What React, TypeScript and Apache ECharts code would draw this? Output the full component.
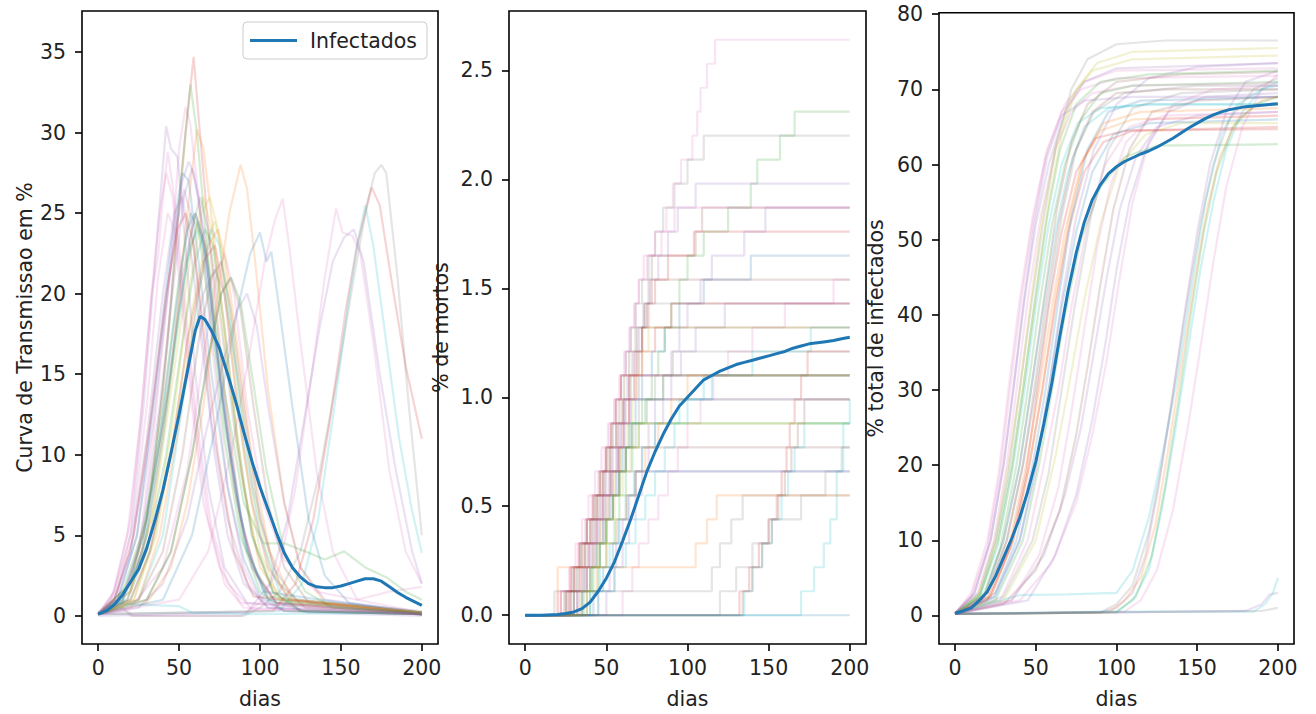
import React, { useEffect, useRef } from "react";
import * as echarts from "echarts";

const TAB = ["#1f77b4", "#ff7f0e", "#2ca02c", "#d62728", "#9467bd", "#8c564b", "#e377c2", "#7f7f7f", "#bcbd22", "#17becf"];

const xTicks = [0, 50, 100, 150, 200];
const yTicksTrans = [0, 5, 10, 15, 20, 25, 30, 35];
const yTicksDeaths = [0, 0.5, 1.0, 1.5, 2.0, 2.5];
const yTicksTotal = [0, 10, 20, 30, 40, 50, 60, 70, 80];

// mean curves [day, value]
const meanTrans = [[0,0.1],[5,0.3],[10,0.7],[15,1.3],[20,2.1],[25,2.9],[30,4.2],[35,5.9],[40,7.8],[45,10.1],[50,12.5],[55,15.1],[60,17.7],[63,18.6],[66,18.4],[70,17.7],[75,16.6],[80,15.0],[85,13.3],[90,11.4],[95,9.6],[100,8.0],[105,6.6],[110,5.2],[115,3.9],[120,3.0],[125,2.4],[130,2.0],[135,1.8],[140,1.75],[145,1.75],[150,1.85],[155,2.0],[160,2.15],[165,2.3],[170,2.3],[175,2.15],[180,1.8],[185,1.45],[190,1.15],[195,0.9],[200,0.65]];
const meanDeaths = [[0,0],[10,0],[20,0.003],[25,0.008],[30,0.015],[35,0.03],[40,0.06],[45,0.11],[50,0.17],[55,0.245],[60,0.34],[65,0.44],[70,0.55],[75,0.66],[80,0.75],[85,0.83],[90,0.9],[95,0.96],[100,1.0],[105,1.04],[110,1.08],[115,1.10],[120,1.12],[125,1.135],[130,1.15],[135,1.16],[140,1.17],[145,1.18],[150,1.19],[155,1.2],[160,1.21],[165,1.225],[170,1.235],[175,1.245],[180,1.25],[185,1.255],[190,1.26],[195,1.268],[200,1.275]];
const meanTotal = [[0,0.3],[5,0.6],[10,1.0],[15,2.0],[20,3.2],[25,5.2],[30,7.7],[35,10.2],[40,13.0],[45,16.5],[50,20.5],[55,25.5],[60,31.0],[65,37.3],[70,43.2],[75,48.2],[80,52.3],[85,55.3],[90,57.3],[95,58.8],[100,59.7],[105,60.4],[110,60.9],[115,61.4],[120,61.8],[125,62.3],[130,62.9],[135,63.5],[140,64.2],[145,64.9],[150,65.5],[155,66.1],[160,66.6],[165,67.0],[170,67.3],[175,67.5],[180,67.7],[185,67.8],[190,67.9],[195,68.0],[200,68.1]];

// individual runs: transmission curve
const transRuns = [
  [[0,0.1],[15,1],[25,4],[35,12],[45,22],[50,29],[54,31.6],[57,30.5],[62,26],[70,17],[80,8],[90,3],[100,1],[115,0.3],[200,0.1]],
  [[0,0.1],[20,2],[30,6],[40,14],[48,23],[54,30],[59,34.7],[62,31],[68,24],[78,14],[88,6],[98,2.5],[110,0.8],[200,0.1]],
  [[0,0.1],[20,2],[33,8],[43,17],[51,27],[57,33],[61,30],[68,22],[78,12],[90,4.5],[105,1.2],[200,0.2]],
  [[0,0.1],[10,1.5],[20,5],[28,13],[36,23],[42,30.4],[45,29],[49,28.5],[54,23],[60,15],[68,8],[78,3],[92,0.8],[200,0.1]],
  [[0,0.2],[20,1.5],[33,6],[44,14],[54,24],[61,30.2],[65,29],[71,24],[80,16],[90,8],[100,3],[115,0.8],[200,0.2]],
  [[0,0.1],[12,1],[24,5],[34,12],[44,21],[52,27],[56,28.2],[59,27.5],[65,24],[73,17],[82,10],[92,4],[105,1],[130,0.2],[200,0]],
  [[0,0.1],[30,0.8],[45,3],[55,7],[65,13],[74,20],[81,25],[88,28],[92,26.5],[97,22],[105,14],[115,7],[125,3],[140,0.8],[200,0.2]],
  [[0,0.1],[50,1],[68,4],[82,10],[93,16],[103,22],[109,24.5],[114,25.9],[118,23],[125,17],[135,9],[145,4],[160,1],[200,0.2]],
  [[0,0.1],[40,1],[58,5],[73,12],[86,19],[94,22.5],[100,23.8],[104,22],[107,22.6],[112,19],[120,13],[130,6],[140,2.5],[155,0.8],[200,0.2]],
  [[0,0.1],[18,0.3],[22,0],[88,0],[100,0.8],[112,3],[122,8],[132,15],[140,21],[147,25.3],[151,23.8],[157,23.6],[162,22.5],[170,17],[180,9],[190,4],[200,2]],
  [[0,0.2],[15,0.5],[20,0],[90,0],[100,0.5],[112,1.5],[125,4],[137,9],[148,15],[158,21],[166,25.5],[171,27.5],[175,28],[178,27.5],[185,21],[192,13],[200,5]],
  [[0,0.1],[108,0.3],[122,2],[133,6],[143,12],[153,19],[160,23],[165,25],[169,26.6],[174,25.5],[181,21],[190,15.5],[200,11]],
  [[0,0.1],[112,0.3],[126,2],[136,6],[146,13],[154,19],[160,23],[165,25.5],[170,23],[178,17],[186,11],[194,6.5],[200,3.9]],
  [[0,0],[92,0.2],[106,2],[117,6],[127,12],[137,18],[145,22],[152,23.5],[158,24],[164,22],[174,15],[184,9],[194,4],[200,2]],
  [[0,0.2],[15,1.5],[30,6],[45,15],[55,22],[62,24.5],[68,22],[78,14],[90,7],[102,4.5],[115,4.5],[128,4],[140,3.5],[152,4],[165,3],[178,2.4],[190,1.5],[200,1]],
  [[0,0.1],[15,1],[28,5],[40,13],[50,21],[57,25],[62,24],[70,18],[78,11],[88,5],[100,1.5],[115,0.3],[200,0.1]],
  [[0,0.1],[20,1.5],[35,7],[48,16],[58,23],[65,26],[70,24],[78,17],[88,9],[98,4],[110,1],[200,0.2]],
  [[0,0.1],[18,1],[30,5],[42,13],[52,21],[60,25],[66,23],[74,16],[84,8],[95,3],[110,0.8],[200,0.1]],
  [[0,0.1],[10,1],[20,4],[30,11],[40,20],[47,25],[52,26],[58,22],[65,16],[72,10],[80,5],[90,2],[105,0.5],[200,0.1]],
  [[0,0.1],[20,1],[32,4],[45,10],[55,17],[65,22],[72,23],[78,20],[86,13],[95,7],[105,3],[118,1],[200,0.2]],
  [[0,0.1],[25,1],[40,5],[52,13],[62,20],[70,24],[75,23],[82,18],[90,11],[100,5],[112,1.5],[125,0.3],[200,0.1]],
  [[0,0.1],[12,1],[24,5],[35,14],[45,23],[52,27.5],[56,27],[62,22],[70,15],[80,8],[90,3.5],[100,1.2],[115,0.3],[200,0.1]],
  [[0,0.1],[10,1.5],[20,6],[27,13],[33,20],[37,22.3],[40,26],[43,28.8],[47,26],[54,19],[61,12],[70,5.5],[80,2],[95,0.4],[200,0.1]],
  [[0,0.1],[25,0.5],[40,2],[55,6],[68,12],[78,16],[86,19],[92,20],[98,18],[105,13],[115,7],[125,3],[140,1],[200,0.2]],
  [[0,0.2],[10,0.8],[25,0.7],[50,0.6],[58,0.2],[90,0.1],[200,0.2]],
  [[0,0.1],[15,1.2],[28,5],[40,12],[50,19],[58,24],[63,26],[68,24],[76,18],[85,11],[95,5],[108,1.5],[125,0.3],[200,0.1]],
  [[0,0.1],[22,1],[36,5],[48,12],[58,19],[66,23],[72,24.5],[78,22],[86,15],[95,8],[106,3],[120,0.8],[200,0.1]],
  [[0,0.1],[30,1],[45,4],[58,10],[68,16],[76,20],[82,21],[88,19],[96,13],[105,7],[115,3],[130,0.8],[200,0.1]],
  [[0,0.1],[20,0.5],[40,3],[55,9],[65,16],[73,21],[78,22.5],[84,20],[92,13],[102,7],[115,3.5],[135,1.5],[160,1],[180,1.5],[200,1.8]],
  [[0,0.1],[8,1],[18,5],[26,12],[33,20],[38,25],[42,27.5],[46,26],[52,20],[60,12],[68,6],[78,2],[90,0.5],[200,0.1]],
  [[0,0.1],[10,1],[20,4],[30,10],[40,18],[48,24],[53,26.5],[57,25],[63,19],[70,12],[80,6],[92,2],[105,0.5],[200,0.1]],
  [[0,0.1],[18,1],[30,4],[42,10],[52,17],[60,22],[66,24],[71,23],[78,18],[86,11],[95,5],[108,1.5],[125,0.3],[200,0.1]],
  [[0,0.1],[15,1],[28,4],[40,11],[50,19],[57,23],[62,24],[67,22],[74,16],[82,10],[92,4],[105,1],[200,0.1]],
  [[0,0.1],[22,1],[35,5],[46,12],[56,20],[64,25],[69,26],[74,24],[82,17],[90,10],[100,4],[112,1],[200,0.2]],
  [[0,0.1],[25,1],[40,4],[52,10],[62,17],[70,21],[76,22],[82,19],[90,13],[100,6],[112,2],[128,0.5],[200,0.1]],
  [[0,0.1],[12,1.5],[22,6],[30,13],[37,21],[43,25],[47,24],[52,19],[58,13],[65,7],[75,3],[88,0.8],[200,0.1]],
  [[0,0.1],[20,1],[32,4],[45,10],[56,16],[65,20],[72,21.5],[78,20],[86,15],[96,8],[108,3],[122,1],[200,0.3]],
  [[0,0.1],[15,0.8],[27,4],[38,11],[48,19],[55,24],[60,25],[65,23],[72,17],[80,11],[90,5],[102,1.5],[200,0.1]],
  [[0,0.1],[25,1],[38,5],[50,12],[60,19],[68,23],[74,24],[79,22],[87,16],[96,9],[106,4],[120,1],[200,0.2]],
  [[0,0.1],[10,1],[22,5],[32,12],[42,20],[49,24],[54,25],[59,23],[66,17],[74,10],[84,4],[96,1.2],[200,0.1]],
  [[0,0.1],[15,1],[27,5],[38,13],[47,21],[53,26],[58,27.8],[62,26],[68,21],[76,14],[86,7],[96,3],[110,0.8],[200,0.1]],
  [[0,0.1],[30,1],[45,4],[58,10],[68,16],[76,20],[82,21],[88,19.5],[95,15],[104,9],[115,4],[128,1.5],[145,0.5],[200,0.2]]
];
const transColors = [6,3,2,4,1,4,1,6,0,6,7,3,9,4,2,2,8,5,4,3,9,0,6,4,9,7,8,5,6,6,4,2,9,8,5,6,7,0,1,3,4,2];

// individual runs: % deaths (step curves)
const deathRuns = [
  [[0,0],[22,0.11],[28,0.22],[33,0.33],[37,0.44],[41,0.55],[45,0.66],[49,0.77],[52,0.88],[55,0.99],[59,1.10],[62,1.21],[65,1.32],[68,1.43],[70,1.54],[73,1.65],[84,1.76],[87,1.87],[91,1.98],[96,2.09],[103,2.20],[106,2.31],[108,2.42],[112,2.53],[117,2.64],[200,2.64]],
  [[0,0],[40,0.11],[45,0.22],[50,0.33],[55,0.44],[58,0.55],[62,0.66],[66,0.77],[70,0.88],[74,0.99],[78,1.10],[82,1.21],[86,1.32],[90,1.43],[95,1.54],[100,1.65],[110,1.76],[125,1.87],[139,1.98],[143,2.09],[157,2.20],[166,2.31],[200,2.31]],
  [[0,0],[28,0.11],[32,0.22],[36,0.33],[40,0.44],[44,0.55],[47,0.66],[50,0.77],[53,0.88],[56,0.99],[59,1.10],[62,1.21],[65,1.32],[68,1.43],[72,1.54],[76,1.65],[80,1.76],[85,1.87],[92,1.98],[100,2.09],[110,2.20],[200,2.20]],
  [[0,0],[30,0.11],[35,0.22],[39,0.33],[43,0.44],[46,0.55],[50,0.66],[54,0.77],[58,0.88],[61,0.99],[64,1.10],[67,1.21],[70,1.32],[73,1.43],[77,1.54],[82,1.65],[88,1.76],[94,1.87],[105,1.98],[200,1.98]],
  [[0,0],[32,0.11],[38,0.22],[42,0.33],[46,0.44],[50,0.55],[54,0.66],[58,0.77],[61,0.88],[64,0.99],[67,1.10],[70,1.21],[72,1.32],[74,1.43],[76,1.54],[78,1.65],[105,1.76],[109,1.87],[200,1.87]],
  [[0,0],[26,0.11],[30,0.22],[35,0.33],[40,0.44],[44,0.55],[48,0.66],[52,0.77],[56,0.88],[60,0.99],[64,1.10],[68,1.21],[72,1.32],[76,1.43],[80,1.54],[88,1.65],[104,1.76],[200,1.76]],
  [[0,0],[45,0.11],[52,0.22],[56,0.33],[60,0.44],[64,0.55],[68,0.66],[72,0.77],[76,0.88],[80,0.99],[85,1.10],[90,1.21],[95,1.32],[100,1.43],[108,1.54],[115,1.65],[135,1.76],[148,1.87],[200,1.87]],
  [[0,0],[35,0.11],[40,0.22],[44,0.33],[48,0.44],[52,0.55],[56,0.66],[60,0.77],[64,0.88],[68,0.99],[72,1.10],[78,1.21],[86,1.32],[95,1.43],[110,1.54],[139,1.65],[200,1.65]],
  [[0,0],[27,0.11],[33,0.22],[37,0.33],[41,0.44],[45,0.55],[49,0.66],[53,0.77],[57,0.88],[61,0.99],[65,1.10],[69,1.21],[72,1.32],[75,1.43],[78,1.54],[200,1.54]],
  [[0,0],[60,0.11],[66,0.22],[70,0.33],[76,0.44],[82,0.55],[88,0.66],[94,0.77],[100,0.88],[108,0.99],[116,1.10],[125,1.21],[140,1.32],[160,1.43],[190,1.54],[200,1.54]],
  [[0,0],[24,0.11],[29,0.22],[34,0.33],[38,0.44],[43,0.55],[48,0.66],[52,0.77],[56,0.88],[60,0.99],[63,1.10],[66,1.21],[69,1.32],[73,1.43],[200,1.43]],
  [[0,0],[50,0.11],[55,0.22],[60,0.33],[64,0.44],[68,0.55],[72,0.66],[76,0.77],[80,0.88],[85,0.99],[90,1.10],[96,1.21],[105,1.32],[123,1.43],[200,1.43]],
  [[0,0],[30,0.11],[36,0.22],[42,0.33],[47,0.44],[51,0.55],[55,0.66],[59,0.77],[63,0.88],[66,0.99],[69,1.10],[72,1.21],[76,1.32],[200,1.32]],
  [[0,0],[45,0.11],[55,0.22],[62,0.33],[68,0.44],[74,0.55],[80,0.66],[86,0.77],[92,0.88],[100,0.99],[110,1.10],[140,1.21],[176,1.32],[200,1.32]],
  [[0,0],[35,0.11],[40,0.22],[46,0.33],[50,0.44],[54,0.55],[58,0.66],[62,0.77],[66,0.88],[70,0.99],[80,1.10],[91,1.21],[200,1.21]],
  [[0,0],[22,0.11],[28,0.22],[33,0.33],[38,0.44],[42,0.55],[46,0.66],[50,0.77],[53,0.88],[56,0.99],[59,1.10],[200,1.10]],
  [[0,0],[30,0.11],[36,0.22],[40,0.33],[44,0.44],[48,0.55],[52,0.66],[56,0.77],[59,0.88],[62,0.99],[200,0.99]],
  [[0,0],[38,0.11],[42,0.22],[46,0.33],[50,0.44],[54,0.55],[58,0.66],[62,0.77],[65,0.88],[200,0.88]],
  [[0,0],[25,0.11],[31,0.22],[37,0.33],[42,0.44],[47,0.55],[52,0.66],[58,0.77],[200,0.77]],
  [[0,0],[33,0.11],[38,0.22],[43,0.33],[48,0.44],[52,0.55],[57,0.66],[200,0.66]],
  [[0,0],[132,0.11],[138,0.22],[144,0.33],[150,0.44],[155,0.55],[158,0.66],[161,0.77],[163,0.88],[166,0.99],[170,1.10],[174,1.21],[200,1.21]],
  [[0,0],[135,0.11],[140,0.22],[146,0.33],[152,0.44],[158,0.55],[162,0.66],[166,0.77],[172,0.88],[200,0.88]],
  [[0,0],[18,0.11],[110,0.11],[115,0.22],[120,0.33],[127,0.44],[134,0.55],[200,0.55]],
  [[0,0],[120,0.11],[130,0.22],[140,0.33],[150,0.44],[170,0.55],[185,0.66],[195,0.77],[200,0.77]],
  [[0,0],[170,0.11],[178,0.22],[184,0.33],[188,0.44],[192,0.66],[196,0.88],[200,0.99]],
  [[0,0],[200,0]],
  [[0,0],[20,0.22],[95,0.22],[105,0.33],[112,0.44],[118,0.55],[200,0.55]],
  [[0,0],[25,0.11],[30,0.22],[34,0.33],[38,0.44],[42,0.55],[46,0.66],[50,0.77],[54,0.88],[58,0.99],[61,1.10],[64,1.21],[68,1.32],[200,1.32]],
  [[0,0],[28,0.11],[34,0.22],[39,0.33],[44,0.44],[48,0.55],[53,0.66],[57,0.77],[60,0.88],[64,0.99],[68,1.10],[72,1.21],[80,1.32],[90,1.43],[200,1.43]],
  [[0,0],[32,0.11],[37,0.22],[41,0.33],[45,0.44],[49,0.55],[53,0.66],[57,0.77],[61,0.88],[65,0.99],[70,1.10],[200,1.10]],
  [[0,0],[20,0.11],[27,0.22],[31,0.33],[35,0.44],[39,0.55],[43,0.66],[47,0.77],[51,0.88],[55,0.99],[58,1.10],[61,1.21],[64,1.32],[67,1.43],[70,1.54],[75,1.65],[80,1.76],[92,1.87],[200,1.87]],
  [[0,0],[36,0.11],[41,0.22],[46,0.33],[50,0.44],[54,0.55],[58,0.66],[62,0.77],[66,0.88],[72,0.99],[85,1.10],[200,1.10]],
  [[0,0],[30,0.11],[38,0.22],[44,0.33],[49,0.44],[54,0.55],[58,0.66],[62,0.77],[68,0.88],[75,0.99],[200,0.99]],
  [[0,0],[40,0.11],[46,0.22],[52,0.33],[57,0.44],[62,0.55],[67,0.66],[72,0.77],[80,0.88],[95,0.99],[115,1.10],[200,1.10]],
  [[0,0],[34,0.11],[40,0.22],[45,0.33],[50,0.44],[55,0.55],[60,0.66],[65,0.77],[70,0.88],[200,0.88]],
  [[0,0],[42,0.11],[48,0.22],[54,0.33],[58,0.44],[63,0.55],[68,0.66],[200,0.66]],
  [[0,0],[134,0.11],[140,0.22],[146,0.33],[152,0.44],[156,0.55],[160,0.66],[164,0.77],[168,0.88],[172,0.99],[200,0.99]],
  [[0,0],[38,0.11],[44,0.22],[50,0.33],[56,0.44],[62,0.55],[68,0.66],[74,0.77],[82,0.88],[90,0.99],[100,1.10],[200,1.10]]
];
const deathColors = [6,2,7,4,5,3,4,0,5,6,7,4,8,9,7,3,4,2,5,6,3,9,7,7,9,0,1,5,3,4,6,2,7,9,8,0,5,1];

// individual runs: cumulative % infected
const totalRuns = [
  [[0,0.3],[10,3],[20,10],[27,19],[33,30],[40,42],[48,53],[57,62],[68,68],[80,71],[100,72.5],[200,72.8]],
  [[0,0.3],[12,3],[22,10],[30,20],[36,30],[43,42],[50,52],[58,60],[68,67],[80,71],[100,72.8],[200,73.5]],
  [[0,0.3],[14,3],[24,10],[32,20],[38,30],[45,42],[53,53],[62,62],[72,67],[85,69.5],[110,70.5],[200,70.8]],
  [[0,0.3],[15,3],[25,10],[33,19],[40,30],[47,41],[55,53],[63,63],[72,70],[82,74],[100,76],[130,76.5],[200,76.5]],
  [[0,0.2],[15,2.5],[27,10],[35,19],[42,30],[50,43],[58,55],[66,64],[75,70],[88,73.5],[110,75],[200,75.5]],
  [[0,0.2],[18,3],[28,9],[38,20],[45,30],[52,41],[60,52],[68,60],[78,66],[90,69.5],[110,70.5],[200,71]],
  [[0,0.3],[18,2.5],[30,10],[40,20],[47,30],[54,40],[62,51],[70,59],[80,65],[95,67.5],[120,68],[200,68]],
  [[0,0.2],[20,3],[32,10],[42,20],[49,30],[56,41],[64,52],[73,61],[85,67],[100,69.5],[130,70],[200,70]],
  [[0,0.2],[20,2.5],[34,10],[44,20],[52,30],[60,41],[68,51],[78,60],[90,64.5],[110,66],[200,66.5]],
  [[0,0.2],[22,2.5],[36,10],[46,20],[54,30],[62,41],[70,51],[80,59],[92,63],[110,64.5],[200,65]],
  [[0,0.2],[24,2.5],[38,10],[48,20],[56,30],[64,42],[72,53],[82,62],[95,67],[115,68.5],[200,69]],
  [[0,0.2],[25,3],[40,10],[50,19],[58,30],[66,42],[75,53],[86,62],[100,68],[120,71.5],[150,73],[200,73.5]],
  [[0,0.2],[25,2],[42,10],[52,20],[60,30],[68,40],[78,50],[90,57],[105,61],[125,62.5],[200,62.7]],
  [[0,0.2],[28,2],[45,10],[55,20],[64,30],[72,41],[82,52],[93,60],[108,65],[130,66.5],[200,67]],
  [[0,0.2],[30,2.5],[48,10],[58,19],[66,30],[74,41],[84,53],[95,62],[110,67.5],[140,69.5],[200,70]],
  [[0,0.2],[30,2],[50,10],[62,21],[70,30],[80,42],[90,52],[102,60],[118,64],[140,65.5],[200,65.5]],
  [[0,0.2],[20,1.5],[40,2.7],[70,2.8],[100,3],[110,6],[120,13],[130,23],[138,32],[146,43],[155,55],[165,64],[175,68],[190,70],[200,70.5]],
  [[0,0.2],[35,2],[55,8],[68,16],[78,25],[86,35],[94,45],[102,54],[112,61],[125,65],[150,66.5],[200,67]],
  [[0,0.2],[40,2],[60,7],[75,15],[85,24],[94,34],[102,45],[110,55],[120,63],[135,68],[160,70],[200,70.5]],
  [[0,0.2],[30,1.5],[50,6],[65,14],[75,24],[82,33],[90,44],[98,54],[108,62],[122,67],[150,68.5],[200,69]],
  [[0,0.2],[90,0.4],[100,1],[110,3],[118,8],[126,17],[134,28],[142,40],[150,51],[158,60],[168,67],[180,71],[200,72.5]],
  [[0,0.2],[100,0.5],[110,2],[120,6],[128,14],[136,24],[144,35],[152,46],[160,55],[168,62],[178,67],[190,70],[200,71]],
  [[0,0.2],[95,0.4],[105,2],[115,5],[124,12],[132,22],[140,33],[148,44],[156,54],[164,61],[175,66],[190,68.5],[200,69]],
  [[0,0.2],[90,0.4],[100,1.5],[110,4],[120,11],[128,20],[136,31],[144,42],[152,52],[160,60],[170,66],[185,70],[200,71.5]],
  [[0,0.2],[105,0.5],[115,2],[125,6],[135,14],[145,26],[153,37],[160,47],[168,57],[178,65],[190,70],[200,72]],
  [[0,0.2],[100,0.4],[112,2.5],[122,8],[130,17],[138,28],[146,40],[154,51],[162,59],[172,65],[186,68],[200,69]],
  [[0,0.2],[100,0.5],[185,0.5],[192,1.5],[197,3],[200,5]],
  [[0,0.2],[100,0.4],[180,0.6],[190,1.5],[195,2.8],[200,3]],
  [[0,0.2],[190,0.6],[200,1]],
  [[0,0.3],[10,2.5],[20,9],[28,19],[34,30],[41,42],[48,52],[56,61],[66,67],[78,70],[100,71.5],[200,71.8]],
  [[0,0.3],[12,3],[22,10],[30,20],[36,30],[42,41],[49,52],[57,61],[66,66.5],[80,68.5],[110,69],[200,69]],
  [[0,0.2],[16,3],[26,10],[35,20],[42,30],[49,41],[57,53],[65,62],[75,68],[90,71],[120,72],[200,72.5]],
  [[0,0.3],[15,2.5],[26,9],[36,20],[43,30],[50,41],[58,52],[66,60],[76,65.5],[90,67.5],[120,68],[200,68]],
  [[0,0.2],[18,2.5],[30,10],[40,20],[47,30],[55,42],[63,54],[72,63],[82,68],[100,71],[140,72],[200,72.3]],
  [[0,0.2],[20,3],[32,10],[42,20],[50,30],[58,42],[66,53],[75,62],[86,67],[105,69.5],[150,70.5],[200,70.5]],
  [[0,0.2],[14,2.5],[25,10],[33,20],[40,30],[47,42],[54,53],[62,62],[72,69],[85,72.5],[110,74],[200,74.5]],
  [[0,0.2],[22,2.5],[36,10],[46,20],[54,30],[62,42],[71,53],[80,61],[92,65.5],[115,67],[200,67.5]],
  [[0,0.2],[25,2.5],[40,10],[50,20],[58,30],[66,41],[75,51],[85,59],[98,64],[120,65.5],[200,66]],
  [[0,0.2],[20,2],[34,9],[44,19],[51,30],[58,41],[66,51],[75,59],[87,63.5],[105,64.5],[200,64.7]],
  [[0,0.2],[35,2],[52,8],[64,17],[72,27],[80,38],[88,49],[96,57],[106,63],[120,66],[200,66.5]],
  [[0,0.2],[45,2],[62,8],[75,16],[85,26],[93,36],[100,46],[108,55],[118,62],[132,67],[155,69],[200,69.5]]
];
const totalColors = [6,4,6,7,8,2,9,5,1,3,0,4,2,6,7,8,9,4,6,5,4,9,1,7,6,2,9,4,7,6,4,2,9,5,7,8,1,0,3,6,4];

const FONT = "'DejaVu Sans', sans-serif";
const TXT = "#222";
const FS = 20.5;

function faint(p: number[][], color: string, idx: number, step?: string) {
  return {
    type: "line", xAxisIndex: idx, yAxisIndex: idx, data: p, showSymbol: false, symbol: "none",
    step: step || false, silent: true, z: 2,
    lineStyle: { color, width: 2.2, opacity: 0.2 }
  };
}

function meanSeries(p: number[][], idx: number, name?: string) {
  return {
    type: "line", name, xAxisIndex: idx, yAxisIndex: idx, data: p, showSymbol: false, symbol: "none",
    silent: true, z: 5, itemStyle: { color: TAB[0] },
    lineStyle: { color: TAB[0], width: 3 }
  };
}

function xAxis(idx: number) {
  return {
    type: "value", gridIndex: idx, min: -10, max: 210,
    name: "dias", nameLocation: "middle", nameGap: 44,
    nameTextStyle: { fontSize: FS, fontFamily: FONT, color: TXT },
    axisLine: { show: false, onZero: false }, splitLine: { show: false },
    axisTick: { show: true, length: 7, customValues: xTicks, lineStyle: { color: "#000", width: 1.6 } },
    axisLabel: { customValues: xTicks, fontSize: FS, fontFamily: FONT, color: TXT, margin: 13 }
  };
}

function yAxis(idx: number, min: number, max: number, ticks: number[], name: string, gap: number, fmt?: (v: number) => string) {
  return {
    type: "value", gridIndex: idx, min, max,
    name, nameLocation: "middle", nameGap: gap, nameRotate: 90,
    nameTextStyle: { fontSize: FS, fontFamily: FONT, color: TXT },
    axisLine: { show: false, onZero: false }, splitLine: { show: false },
    axisTick: { show: true, length: 7, customValues: ticks, lineStyle: { color: "#000", width: 1.6 } },
    axisLabel: { customValues: ticks, fontSize: FS, fontFamily: FONT, color: TXT, margin: 16, formatter: fmt }
  };
}

export default function App() {
  const ref = useRef<HTMLDivElement>(null);
  useEffect(() => {
    if (!ref.current) return;
    const chart = echarts.init(ref.current, null, { renderer: "svg" });
    const series: any[] = [];
    transRuns.forEach((p, i) => series.push(faint(p, TAB[transColors[i % transColors.length]], 0)));
    deathRuns.forEach((p, i) => series.push(faint(p, TAB[deathColors[i % deathColors.length]], 1, "end")));
    totalRuns.forEach((p, i) => series.push(faint(p, TAB[totalColors[i % totalColors.length]], 2)));
    series.push(meanSeries(meanTrans, 0, "Infectados"));
    series.push(meanSeries(meanDeaths, 1));
    series.push(meanSeries(meanTotal, 2));
    const gridBase = { show: true, borderColor: "#000", borderWidth: 1.6, backgroundColor: "transparent", containLabel: false };
    chart.setOption({
      animation: false,
      backgroundColor: "#fff",
      grid: [
        { ...gridBase, left: 82, top: 11, width: 356, height: 634 },
        { ...gridBase, left: 509, top: 11, width: 357, height: 634 },
        { ...gridBase, left: 939, top: 12.7, width: 355, height: 632.3 }
      ],
      legend: {
        show: true, data: ["Infectados"], left: 243, top: 22, itemWidth: 47, itemHeight: 3, icon: "rect",
        borderColor: "#cccccc", borderWidth: 1, borderRadius: 4, padding: [8, 10, 8, 7],
        backgroundColor: "rgba(255,255,255,0.8)",
        textStyle: { fontSize: FS, fontFamily: FONT, color: TXT, padding: [0, 0, 0, 8] }
      },
      xAxis: [xAxis(0), xAxis(1), xAxis(2)],
      yAxis: [
        yAxis(0, -1.75, 37.55, yTicksTrans, "Curva de Transmissao em %", 47),
        yAxis(1, -0.132, 2.772, yTicksDeaths, "% de mortos", 58, (v: number) => v.toFixed(1)),
        yAxis(2, -3.8, 80.2, yTicksTotal, "% total de infectados", 53)
      ],
      series
    });
    return () => chart.dispose();
  }, []);
  return <div ref={ref} style={{ position: "fixed", left: 0, top: 0, width: 1316, height: 714 }} />;
}
